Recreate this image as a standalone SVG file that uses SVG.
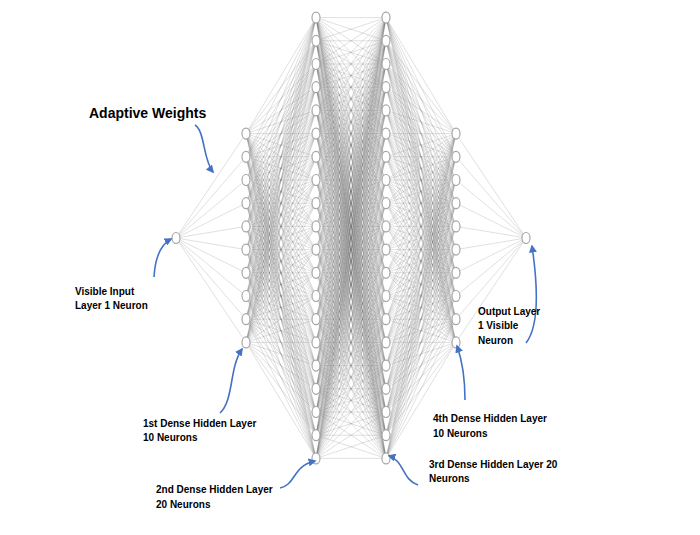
<svg xmlns="http://www.w3.org/2000/svg" xmlns:xlink="http://www.w3.org/1999/xlink" width="700" height="535" viewBox="0 0 700 535">
<style>
.e{fill:none;stroke:#707070;stroke-opacity:.28;stroke-width:.8;vector-effect:non-scaling-stroke}
.node ellipse{fill:#fff;stroke:#a6a6a6;stroke-width:1.2}
.lbl{font-family:"Liberation Sans",Arial,sans-serif;font-weight:bold;font-size:10px;fill:#000}
.big{font-size:14px}
.arr{fill:none;stroke:#4472C4;stroke-width:1.6}
</style>
<defs>
<marker id="ah" viewBox="0 0 10 10" refX="8" refY="5" markerWidth="8" markerHeight="8" markerUnits="userSpaceOnUse" orient="auto">
<path d="M0 0L10 5L0 10z" fill="#4472C4"/>
</marker>
<path id="fanA" class="e" d="M0 0L1 0M0 0L1 1M0 0L1 2M0 0L1 3M0 0L1 4M0 0L1 5M0 0L1 6M0 0L1 7M0 0L1 8M0 0L1 9M0 0L1 10M0 0L1 11M0 0L1 12M0 0L1 13M0 0L1 14M0 0L1 15M0 0L1 16M0 0L1 17M0 0L1 18M0 0L1 19"/>
<path id="fanB" class="e" d="M0 0L1 5M0 0L1 6M0 0L1 7M0 0L1 8M0 0L1 9M0 0L1 10M0 0L1 11M0 0L1 12M0 0L1 13M0 0L1 14"/>
</defs>
<rect width="700" height="535" fill="#fff"/>
<g id="connectors" transform="translate(176 17.6) scale(70 23.2)">
<use xlink:href="#fanB" transform="matrix(1 -9.5 0 1 0 9.5)"/>
<use xlink:href="#fanA" transform="matrix(1 -5 0 1 1 5)"/>
<use xlink:href="#fanA" transform="matrix(1 -6 0 1 1 6)"/>
<use xlink:href="#fanA" transform="matrix(1 -7 0 1 1 7)"/>
<use xlink:href="#fanA" transform="matrix(1 -8 0 1 1 8)"/>
<use xlink:href="#fanA" transform="matrix(1 -9 0 1 1 9)"/>
<use xlink:href="#fanA" transform="matrix(1 -10 0 1 1 10)"/>
<use xlink:href="#fanA" transform="matrix(1 -11 0 1 1 11)"/>
<use xlink:href="#fanA" transform="matrix(1 -12 0 1 1 12)"/>
<use xlink:href="#fanA" transform="matrix(1 -13 0 1 1 13)"/>
<use xlink:href="#fanA" transform="matrix(1 -14 0 1 1 14)"/>
<use xlink:href="#fanA" transform="matrix(1 0 0 1 2 0)"/>
<use xlink:href="#fanA" transform="matrix(1 -1 0 1 2 1)"/>
<use xlink:href="#fanA" transform="matrix(1 -2 0 1 2 2)"/>
<use xlink:href="#fanA" transform="matrix(1 -3 0 1 2 3)"/>
<use xlink:href="#fanA" transform="matrix(1 -4 0 1 2 4)"/>
<use xlink:href="#fanA" transform="matrix(1 -5 0 1 2 5)"/>
<use xlink:href="#fanA" transform="matrix(1 -6 0 1 2 6)"/>
<use xlink:href="#fanA" transform="matrix(1 -7 0 1 2 7)"/>
<use xlink:href="#fanA" transform="matrix(1 -8 0 1 2 8)"/>
<use xlink:href="#fanA" transform="matrix(1 -9 0 1 2 9)"/>
<use xlink:href="#fanA" transform="matrix(1 -10 0 1 2 10)"/>
<use xlink:href="#fanA" transform="matrix(1 -11 0 1 2 11)"/>
<use xlink:href="#fanA" transform="matrix(1 -12 0 1 2 12)"/>
<use xlink:href="#fanA" transform="matrix(1 -13 0 1 2 13)"/>
<use xlink:href="#fanA" transform="matrix(1 -14 0 1 2 14)"/>
<use xlink:href="#fanA" transform="matrix(1 -15 0 1 2 15)"/>
<use xlink:href="#fanA" transform="matrix(1 -16 0 1 2 16)"/>
<use xlink:href="#fanA" transform="matrix(1 -17 0 1 2 17)"/>
<use xlink:href="#fanA" transform="matrix(1 -18 0 1 2 18)"/>
<use xlink:href="#fanA" transform="matrix(1 -19 0 1 2 19)"/>
<use xlink:href="#fanB" transform="matrix(1 0 0 1 3 0)"/>
<use xlink:href="#fanB" transform="matrix(1 -1 0 1 3 1)"/>
<use xlink:href="#fanB" transform="matrix(1 -2 0 1 3 2)"/>
<use xlink:href="#fanB" transform="matrix(1 -3 0 1 3 3)"/>
<use xlink:href="#fanB" transform="matrix(1 -4 0 1 3 4)"/>
<use xlink:href="#fanB" transform="matrix(1 -5 0 1 3 5)"/>
<use xlink:href="#fanB" transform="matrix(1 -6 0 1 3 6)"/>
<use xlink:href="#fanB" transform="matrix(1 -7 0 1 3 7)"/>
<use xlink:href="#fanB" transform="matrix(1 -8 0 1 3 8)"/>
<use xlink:href="#fanB" transform="matrix(1 -9 0 1 3 9)"/>
<use xlink:href="#fanB" transform="matrix(1 -10 0 1 3 10)"/>
<use xlink:href="#fanB" transform="matrix(1 -11 0 1 3 11)"/>
<use xlink:href="#fanB" transform="matrix(1 -12 0 1 3 12)"/>
<use xlink:href="#fanB" transform="matrix(1 -13 0 1 3 13)"/>
<use xlink:href="#fanB" transform="matrix(1 -14 0 1 3 14)"/>
<use xlink:href="#fanB" transform="matrix(1 -15 0 1 3 15)"/>
<use xlink:href="#fanB" transform="matrix(1 -16 0 1 3 16)"/>
<use xlink:href="#fanB" transform="matrix(1 -17 0 1 3 17)"/>
<use xlink:href="#fanB" transform="matrix(1 -18 0 1 3 18)"/>
<use xlink:href="#fanB" transform="matrix(1 -19 0 1 3 19)"/>
<use xlink:href="#fanB" transform="matrix(-1 -9.5 0 1 5 9.5)"/>
</g>
<g id="nodes">
<g id="input-n1" class="node"><ellipse cx="176" cy="238" rx="4" ry="5.5"/></g>
<g id="h1-n1" class="node"><ellipse cx="246" cy="133.6" rx="4" ry="5.5"/></g>
<g id="h1-n2" class="node"><ellipse cx="246" cy="156.8" rx="4" ry="5.5"/></g>
<g id="h1-n3" class="node"><ellipse cx="246" cy="180" rx="4" ry="5.5"/></g>
<g id="h1-n4" class="node"><ellipse cx="246" cy="203.2" rx="4" ry="5.5"/></g>
<g id="h1-n5" class="node"><ellipse cx="246" cy="226.4" rx="4" ry="5.5"/></g>
<g id="h1-n6" class="node"><ellipse cx="246" cy="249.6" rx="4" ry="5.5"/></g>
<g id="h1-n7" class="node"><ellipse cx="246" cy="272.8" rx="4" ry="5.5"/></g>
<g id="h1-n8" class="node"><ellipse cx="246" cy="296" rx="4" ry="5.5"/></g>
<g id="h1-n9" class="node"><ellipse cx="246" cy="319.2" rx="4" ry="5.5"/></g>
<g id="h1-n10" class="node"><ellipse cx="246" cy="342.4" rx="4" ry="5.5"/></g>
<g id="h2-n1" class="node"><ellipse cx="316" cy="17.6" rx="4" ry="5.5"/></g>
<g id="h2-n2" class="node"><ellipse cx="316" cy="40.8" rx="4" ry="5.5"/></g>
<g id="h2-n3" class="node"><ellipse cx="316" cy="64" rx="4" ry="5.5"/></g>
<g id="h2-n4" class="node"><ellipse cx="316" cy="87.2" rx="4" ry="5.5"/></g>
<g id="h2-n5" class="node"><ellipse cx="316" cy="110.4" rx="4" ry="5.5"/></g>
<g id="h2-n6" class="node"><ellipse cx="316" cy="133.6" rx="4" ry="5.5"/></g>
<g id="h2-n7" class="node"><ellipse cx="316" cy="156.8" rx="4" ry="5.5"/></g>
<g id="h2-n8" class="node"><ellipse cx="316" cy="180" rx="4" ry="5.5"/></g>
<g id="h2-n9" class="node"><ellipse cx="316" cy="203.2" rx="4" ry="5.5"/></g>
<g id="h2-n10" class="node"><ellipse cx="316" cy="226.4" rx="4" ry="5.5"/></g>
<g id="h2-n11" class="node"><ellipse cx="316" cy="249.6" rx="4" ry="5.5"/></g>
<g id="h2-n12" class="node"><ellipse cx="316" cy="272.8" rx="4" ry="5.5"/></g>
<g id="h2-n13" class="node"><ellipse cx="316" cy="296" rx="4" ry="5.5"/></g>
<g id="h2-n14" class="node"><ellipse cx="316" cy="319.2" rx="4" ry="5.5"/></g>
<g id="h2-n15" class="node"><ellipse cx="316" cy="342.4" rx="4" ry="5.5"/></g>
<g id="h2-n16" class="node"><ellipse cx="316" cy="365.6" rx="4" ry="5.5"/></g>
<g id="h2-n17" class="node"><ellipse cx="316" cy="388.8" rx="4" ry="5.5"/></g>
<g id="h2-n18" class="node"><ellipse cx="316" cy="412" rx="4" ry="5.5"/></g>
<g id="h2-n19" class="node"><ellipse cx="316" cy="435.2" rx="4" ry="5.5"/></g>
<g id="h2-n20" class="node"><ellipse cx="316" cy="458.4" rx="4" ry="5.5"/></g>
<g id="h3-n1" class="node"><ellipse cx="386" cy="17.6" rx="4" ry="5.5"/></g>
<g id="h3-n2" class="node"><ellipse cx="386" cy="40.8" rx="4" ry="5.5"/></g>
<g id="h3-n3" class="node"><ellipse cx="386" cy="64" rx="4" ry="5.5"/></g>
<g id="h3-n4" class="node"><ellipse cx="386" cy="87.2" rx="4" ry="5.5"/></g>
<g id="h3-n5" class="node"><ellipse cx="386" cy="110.4" rx="4" ry="5.5"/></g>
<g id="h3-n6" class="node"><ellipse cx="386" cy="133.6" rx="4" ry="5.5"/></g>
<g id="h3-n7" class="node"><ellipse cx="386" cy="156.8" rx="4" ry="5.5"/></g>
<g id="h3-n8" class="node"><ellipse cx="386" cy="180" rx="4" ry="5.5"/></g>
<g id="h3-n9" class="node"><ellipse cx="386" cy="203.2" rx="4" ry="5.5"/></g>
<g id="h3-n10" class="node"><ellipse cx="386" cy="226.4" rx="4" ry="5.5"/></g>
<g id="h3-n11" class="node"><ellipse cx="386" cy="249.6" rx="4" ry="5.5"/></g>
<g id="h3-n12" class="node"><ellipse cx="386" cy="272.8" rx="4" ry="5.5"/></g>
<g id="h3-n13" class="node"><ellipse cx="386" cy="296" rx="4" ry="5.5"/></g>
<g id="h3-n14" class="node"><ellipse cx="386" cy="319.2" rx="4" ry="5.5"/></g>
<g id="h3-n15" class="node"><ellipse cx="386" cy="342.4" rx="4" ry="5.5"/></g>
<g id="h3-n16" class="node"><ellipse cx="386" cy="365.6" rx="4" ry="5.5"/></g>
<g id="h3-n17" class="node"><ellipse cx="386" cy="388.8" rx="4" ry="5.5"/></g>
<g id="h3-n18" class="node"><ellipse cx="386" cy="412" rx="4" ry="5.5"/></g>
<g id="h3-n19" class="node"><ellipse cx="386" cy="435.2" rx="4" ry="5.5"/></g>
<g id="h3-n20" class="node"><ellipse cx="386" cy="458.4" rx="4" ry="5.5"/></g>
<g id="h4-n1" class="node"><ellipse cx="456" cy="133.6" rx="4" ry="5.5"/></g>
<g id="h4-n2" class="node"><ellipse cx="456" cy="156.8" rx="4" ry="5.5"/></g>
<g id="h4-n3" class="node"><ellipse cx="456" cy="180" rx="4" ry="5.5"/></g>
<g id="h4-n4" class="node"><ellipse cx="456" cy="203.2" rx="4" ry="5.5"/></g>
<g id="h4-n5" class="node"><ellipse cx="456" cy="226.4" rx="4" ry="5.5"/></g>
<g id="h4-n6" class="node"><ellipse cx="456" cy="249.6" rx="4" ry="5.5"/></g>
<g id="h4-n7" class="node"><ellipse cx="456" cy="272.8" rx="4" ry="5.5"/></g>
<g id="h4-n8" class="node"><ellipse cx="456" cy="296" rx="4" ry="5.5"/></g>
<g id="h4-n9" class="node"><ellipse cx="456" cy="319.2" rx="4" ry="5.5"/></g>
<g id="h4-n10" class="node"><ellipse cx="456" cy="342.4" rx="4" ry="5.5"/></g>
<g id="output-n1" class="node"><ellipse cx="526" cy="238" rx="4" ry="5.5"/></g>
</g>
<g id="annotations">
<path class="arr" marker-end="url(#ah)" d="M195 125C205 131 203 160 213 172"/>
<path class="arr" marker-end="url(#ah)" d="M154 277C155 260 160 245 171 239"/>
<path class="arr" marker-end="url(#ah)" d="M220 413C234 400 229 368 242 349"/>
<path class="arr" marker-end="url(#ah)" d="M280 488C296 485 292 466 315 461"/>
<path class="arr" marker-end="url(#ah)" d="M418 485C402 480 404 460 389 456"/>
<path class="arr" marker-end="url(#ah)" d="M465 400C465 380 462 360 457 346"/>
<path class="arr" marker-end="url(#ah)" d="M526 343C540 325 537 280 532 246"/>
<text class="lbl big" x="89" y="118">Adaptive Weights</text>
<text class="lbl" x="75" y="295">Visible Input</text>
<text class="lbl" x="75" y="309">Layer 1 Neuron</text>
<text class="lbl" x="143" y="427">1st Dense Hidden Layer</text>
<text class="lbl" x="143" y="441">10 Neurons</text>
<text class="lbl" x="156" y="493">2nd Dense Hidden Layer</text>
<text class="lbl" x="156" y="508">20 Neurons</text>
<text class="lbl" x="429" y="468">3rd Dense Hidden Layer 20</text>
<text class="lbl" x="429" y="482">Neurons</text>
<text class="lbl" x="433" y="422">4th Dense Hidden Layer</text>
<text class="lbl" x="433" y="437">10 Neurons</text>
<text class="lbl" x="478" y="315">Output Layer</text>
<text class="lbl" x="478" y="329">1 Visible</text>
<text class="lbl" x="478" y="344">Neuron</text>
</g>
</svg>
